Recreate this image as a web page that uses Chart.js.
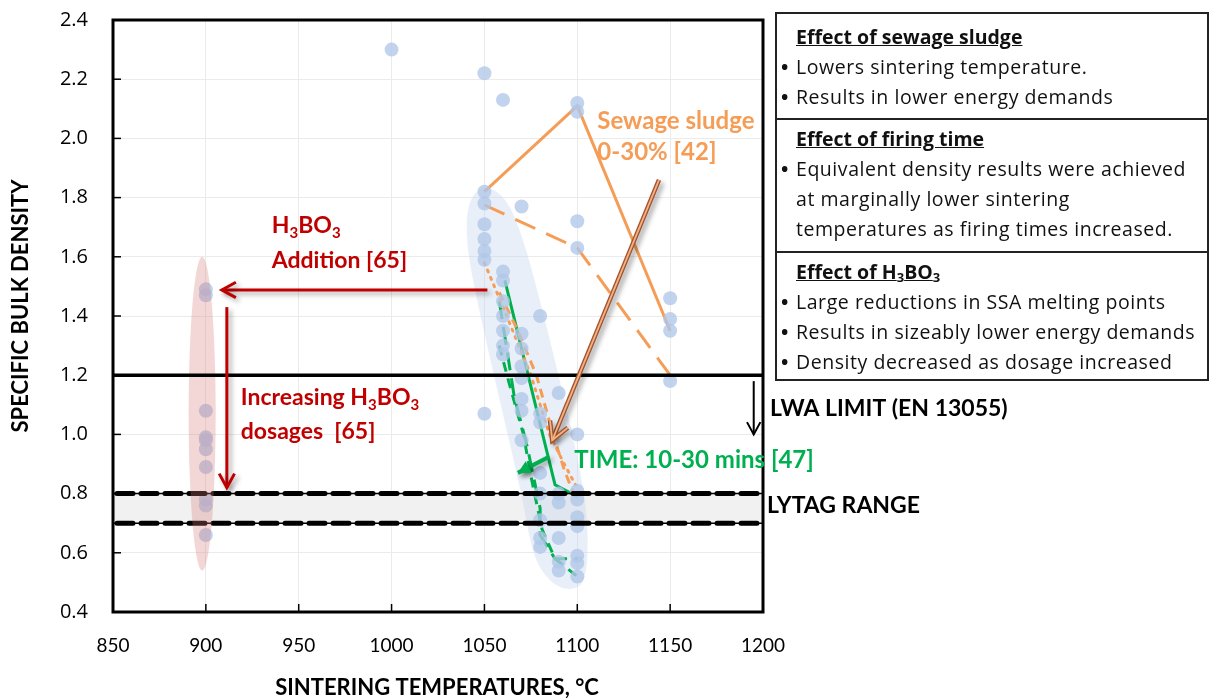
<!DOCTYPE html>
<html>
<head>
<meta charset="utf-8">
<script src="https://cdn.jsdelivr.net/npm/chart.js@4.4.1/dist/chart.umd.min.js"></script>
<style>
  body { margin: 0; background: #fff; }
  #wrap { position: relative; width: 1213px; height: 700px; }
  #panel { position: absolute; left: 775px; top: 12px; width: 430px; border: 2px solid #222;
           font-family: "Open Sans", Lato, sans-serif; font-size: 19.5px; letter-spacing: 0.55px; color: #111; }
  .sec { position: relative; box-sizing: border-box; padding-left: 19px; line-height: 30px; white-space: nowrap; }
  .sec + .sec { border-top: 2px solid #222; }
  .hd { font-weight: bold; text-decoration: underline; letter-spacing: 0; }
  .bl { position: relative; }
  .bl:before { content: "\2022"; position: absolute; left: -15px; font-weight: bold; }
  sub { font-size: 13px; vertical-align: -3px; line-height: 0; }
</style>
</head>
<body>
<div id="wrap">
  <canvas id="c" width="1213" height="700"></canvas>
  <div id="panel">
    <div class="sec" style="height:104px;padding-top:8px">
      <div class="hd">Effect of sewage sludge</div>
      <div class="bl">Lowers sintering temperature.</div>
      <div class="bl">Results in lower energy demands</div>
    </div>
    <div class="sec" style="height:133px;padding-top:4px">
      <div class="hd">Effect of firing time</div>
      <div class="bl">Equivalent density results were achieved<br>at marginally lower sintering<br>temperatures as firing times increased.</div>
    </div>
    <div class="sec" style="height:128px;padding-top:4px">
      <div class="hd">Effect of H<sub>3</sub>BO<sub>3</sub></div>
      <div class="bl">Large reductions in SSA melting points</div>
      <div class="bl">Results in sizeably lower energy demands</div>
      <div class="bl">Density decreased as dosage increased</div>
    </div>
  </div>
</div>
<script>
// measured densities, grouped by sintering temperature
var temps = [900, 1000, 1050, 1060, 1070, 1080, 1090, 1100, 1150];
var d900  = [1.49, 1.47, 1.08, 0.99, 0.98, 0.95, 0.89, 0.78, 0.76, 0.66];
var d1000 = [2.30];
var d1050 = [2.22, 1.82, 1.78, 1.71, 1.66, 1.62, 1.59, 1.07];
var d1060 = [2.13, 1.55, 1.52, 1.45, 1.40, 1.35, 1.30, 1.27];
var d1070 = [1.77, 1.34, 1.29, 1.23, 1.19, 1.12, 1.08, 0.98];
var d1080 = [1.40, 1.07, 1.04, 0.87, 0.80, 0.71, 0.65, 0.62];
var d1090 = [1.14, 0.80, 0.77, 0.65, 0.57, 0.54];
var d1100 = [2.12, 2.09, 1.72, 1.63, 1.00, 0.81, 0.78, 0.72, 0.69, 0.59, 0.565, 0.52];
var d1150 = [1.46, 1.39, 1.35, 1.18];
var densByTemp = [d900, d1000, d1050, d1060, d1070, d1080, d1090, d1100, d1150];

// sewage sludge 0-30% [42]
var sludgeT = [1050, 1100, 1150];
var sludgeSolid = [1.82, 2.11, 1.35];
var sludgeDash = [1.775, 1.63, 1.20];
var sludgeDotT = [1050, 1062, 1075, 1085, 1093, 1099];
var sludgeDot = [1.58, 1.40, 1.20, 1.00, 0.90, 0.83];
var sludgeDash2T = [1058, 1068, 1078, 1087, 1093, 1098];
var sludgeDash2 = [1.48, 1.35, 1.20, 1.00, 0.88, 0.80];

// firing time 10-30 mins [47]
var timeSolidT = [1061, 1088, 1100];
var timeSolid = [1.52, 0.83, 0.79];
var timeDashT = [1058, 1066, 1073, 1080, 1080, 1088, 1100];
var timeDash = [1.45, 1.13, 0.96, 0.75, 0.66, 0.58, 0.58];
var timeDash2T = [1058, 1063, 1071, 1075, 1081, 1088, 1100];
var timeDash2 = [1.30, 1.18, 1.00, 0.86, 0.68, 0.58, 0.52];

// reference limits
var lwaLimit = 1.2;
var lytagRange = [0.7, 0.8];

// shaded cluster outline (temperature, density)
var blobT = [1041, 1050, 1062, 1071, 1080, 1086, 1093, 1101, 1106, 1105, 1096, 1085, 1076, 1070, 1058, 1046, 1040];
var blobV = [1.79, 1.845, 1.80, 1.66, 1.45, 1.30, 1.12, 0.90, 0.70, 0.50, 0.47, 0.50, 0.59, 0.80, 1.12, 1.45, 1.65];

function pairs(xs, ys) {
  return ys.map(function (y, i) { return { x: xs[i], y: y }; });
}

var points = [];
temps.forEach(function (t, i) {
  densByTemp[i].forEach(function (d) { points.push({ x: t, y: d }); });
});

var ORANGE = '#F59D56', GREEN = '#00B050', RED = '#C00000';

function lineSet(data, color, dash) {
  return { data: data, showLine: true, borderColor: color, borderWidth: 3, borderDash: dash,
           pointRadius: 0, fill: false, order: 1, borderCapStyle: dash.length && dash[0] < 5 ? 'round' : 'butt' };
}

function subText(ctx, parts, x, y, size) {
  var cx = x;
  parts.forEach(function (p) {
    var sz = p[1] ? Math.round(size * 0.65) : size;
    ctx.font = 'bold ' + sz + 'px Lato';
    ctx.fillText(p[0], cx, y + (p[1] ? size * 0.3 : 0));
    cx += ctx.measureText(p[0]).width;
  });
}

function arrow(ctx, x1, y1, x2, y2, color, width, head, filled) {
  var a = Math.atan2(y2 - y1, x2 - x1);
  ctx.strokeStyle = color; ctx.fillStyle = color; ctx.lineWidth = width;
  ctx.beginPath(); ctx.moveTo(x1, y1); ctx.lineTo(x2, y2); ctx.stroke();
  ctx.beginPath();
  ctx.moveTo(x2 - head * Math.cos(a - 0.5), y2 - head * Math.sin(a - 0.5));
  ctx.lineTo(x2, y2);
  ctx.lineTo(x2 - head * Math.cos(a + 0.5), y2 - head * Math.sin(a + 0.5));
  if (filled) { ctx.closePath(); ctx.fill(); } else { ctx.stroke(); }
}

var decor = {
  id: 'decor',
  beforeDatasetsDraw: function (chart) {
    var ctx = chart.ctx, xs = chart.scales.x, ys = chart.scales.y, a = chart.chartArea;
    ctx.save();
    // lytag band
    ctx.fillStyle = '#f1f1f1';
    var yt = ys.getPixelForValue(lytagRange[1]), yb = ys.getPixelForValue(lytagRange[0]);
    ctx.fillRect(a.left, yt, a.right - a.left, yb - yt);
    // blue cluster
    var p = blobT.map(function (t, i) { return [xs.getPixelForValue(t), ys.getPixelForValue(blobV[i])]; });
    var n = p.length;
    ctx.fillStyle = 'rgba(195,212,235,0.36)';
    ctx.beginPath();
    var m0 = [(p[n - 1][0] + p[0][0]) / 2, (p[n - 1][1] + p[0][1]) / 2];
    ctx.moveTo(m0[0], m0[1]);
    for (var i = 0; i < n; i++) {
      var q = p[(i + 1) % n];
      ctx.quadraticCurveTo(p[i][0], p[i][1], (p[i][0] + q[0]) / 2, (p[i][1] + q[1]) / 2);
    }
    ctx.fill();
    ctx.restore();
  },
  afterDatasetsDraw: function (chart) {
    var ctx = chart.ctx, xs = chart.scales.x, ys = chart.scales.y, a = chart.chartArea;
    var X = function (v) { return xs.getPixelForValue(v); }, Y = function (v) { return ys.getPixelForValue(v); };
    ctx.save();
    // lytag dashed bounds
    lytagRange.forEach(function (v) {
      ctx.strokeStyle = '#000';
      ctx.setLineDash([]); ctx.lineWidth = 1.5;
      ctx.beginPath(); ctx.moveTo(a.left, Y(v)); ctx.lineTo(a.right, Y(v)); ctx.stroke();
      ctx.setLineDash([16, 8]); ctx.lineWidth = 5; ctx.lineCap = 'round';
      ctx.beginPath(); ctx.moveTo(a.left + 4, Y(v)); ctx.lineTo(a.right, Y(v)); ctx.stroke();
    });
    ctx.setLineDash([]); ctx.lineCap = 'butt';
    // pink ellipse round the H3BO3 points (sits over the markers)
    ctx.fillStyle = 'rgba(215,120,120,0.30)';
    ctx.beginPath();
    ctx.ellipse(X(898), Y(1.07), 13.5, Y(0.54) - Y(1.07), 0, 0, Math.PI * 2);
    ctx.fill();
    // LWA limit line
    ctx.lineWidth = 3.5;
    ctx.beginPath(); ctx.moveTo(a.left, Y(lwaLimit)); ctx.lineTo(a.right, Y(lwaLimit)); ctx.stroke();
    // frame
    ctx.lineWidth = 3;
    ctx.strokeRect(a.left, a.top, a.right - a.left, a.bottom - a.top);
    // inward tick marks
    ctx.lineWidth = 1.5;
    xs.ticks.forEach(function (t) {
      ctx.beginPath(); ctx.moveTo(X(t.value), a.bottom); ctx.lineTo(X(t.value), a.bottom - 8); ctx.stroke();
    });
    ys.ticks.forEach(function (t) {
      ctx.beginPath(); ctx.moveTo(a.left, Y(t.value)); ctx.lineTo(a.left + 8, Y(t.value)); ctx.stroke();
    });

    // arrows with soft shadow
    ctx.shadowColor = 'rgba(0,0,0,0.35)'; ctx.shadowBlur = 5; ctx.shadowOffsetX = 3; ctx.shadowOffsetY = 3;
    arrow(ctx, X(1051.6), Y(1.488), X(908.6), Y(1.488), RED, 3, 16, false);
    arrow(ctx, X(911.3), Y(1.43), X(911.3), Y(0.82), RED, 3, 16, false);
    arrow(ctx, X(1144), Y(1.86), X(1086.5), Y(0.98), '#A0522D', 4.5, 20, false);
    ctx.shadowColor = 'transparent';
    arrow(ctx, X(1144), Y(1.86), X(1086.5), Y(0.98), '#F4B183', 1.8, 20, false);
    ctx.shadowColor = 'rgba(0,0,0,0.35)';
    arrow(ctx, X(1085), Y(0.925), X(1068), Y(0.87), GREEN, 4, 14, true);
    ctx.shadowColor = 'transparent';
    arrow(ctx, X(1195), Y(1.18), X(1195), Y(1.0), '#000', 2, 14, false);

    // annotation text
    ctx.textBaseline = 'middle'; ctx.textAlign = 'left';
    ctx.fillStyle = ORANGE; ctx.font = 'bold 24px Lato';
    ctx.fillText('Sewage sludge', X(1110.8), Y(2.059));
    ctx.fillText('0-30% [42]', X(1110.8), Y(1.954));
    ctx.fillStyle = RED;
    subText(ctx, [['H', 0], ['3', 1], ['BO', 0], ['3', 1]], X(935.5), Y(1.704), 23);
    ctx.font = 'bold 23px Lato';
    ctx.fillText('Addition [65]', X(935.5), Y(1.586));
    subText(ctx, [['Increasing H', 0], ['3', 1], ['BO', 0], ['3', 1]], X(918.8), Y(1.123), 23);
    ctx.font = 'bold 23px Lato';
    ctx.fillText('dosages  [65]', X(918.8), Y(1.008));
    ctx.fillStyle = GREEN; ctx.font = 'bold 24px Lato';
    ctx.fillText('TIME: 10-30 mins [47]', X(1098.4), Y(0.914));
    ctx.fillStyle = '#000'; ctx.font = 'bold 23px Lato';
    ctx.fillText('LWA LIMIT (EN 13055)', a.right + 7, Y(1.086));
    ctx.fillText('LYTAG RANGE', a.right + 4, Y(0.761));

    // axis titles
    ctx.font = 'bold 22px Lato'; ctx.textAlign = 'center';
    ctx.fillText('SINTERING TEMPERATURES, \u00B0C', (a.left + a.right) / 2 - 1, 688);
    ctx.save();
    ctx.translate(21, 306);
    ctx.rotate(-Math.PI / 2);
    ctx.fillText('SPECIFIC BULK DENSITY', 0, 0);
    ctx.restore();
    ctx.restore();
  }
};

new Chart(document.getElementById('c'), {
  type: 'scatter',
  data: {
    datasets: [
      { data: points, pointRadius: 7, pointBackgroundColor: 'rgba(176,198,232,0.78)', pointBorderWidth: 0, order: 0 },
      lineSet(pairs(sludgeT, sludgeSolid), ORANGE, []),
      lineSet(pairs(sludgeT, sludgeDash), ORANGE, [22, 12]),
      lineSet(pairs(sludgeDotT, sludgeDot), ORANGE, [2, 6]),
      lineSet(pairs(sludgeDash2T, sludgeDash2), ORANGE, [9, 6]),
      lineSet(pairs(timeSolidT, timeSolid), GREEN, []),
      lineSet(pairs(timeDashT, timeDash), GREEN, [18, 8]),
      lineSet(pairs(timeDash2T, timeDash2), GREEN, [10, 7])
    ]
  },
  options: {
    responsive: false,
    animation: false,
    layout: { padding: { top: 20, right: 450, left: 0, bottom: 0 } },
    plugins: { legend: { display: false }, tooltip: { enabled: false } },
    scales: {
      x: {
        type: 'linear', min: 850, max: 1200,
        ticks: { stepSize: 50, padding: 22, color: '#000', font: { family: 'Lato', size: 19 },
                 callback: function (v) { return String(v); } },
        grid: { color: '#ebebeb', drawTicks: false },
        border: { display: false },
        afterFit: function (s) { s.height = 88; }
      },
      y: {
        min: 0.4, max: 2.4,
        ticks: { stepSize: 0.2, padding: 25, color: '#000', font: { family: 'Open Sans', size: 20 },
                 callback: function (v) { return v.toFixed(1); } },
        grid: { color: '#ebebeb', drawTicks: false },
        border: { display: false },
        // the label padding would otherwise push the plot top down
        afterFit: function (s) { s.width = 113; s.paddingTop = 12; s.paddingBottom = 12; }
      }
    }
  },
  plugins: [decor]
});
</script>
</body>
</html>
